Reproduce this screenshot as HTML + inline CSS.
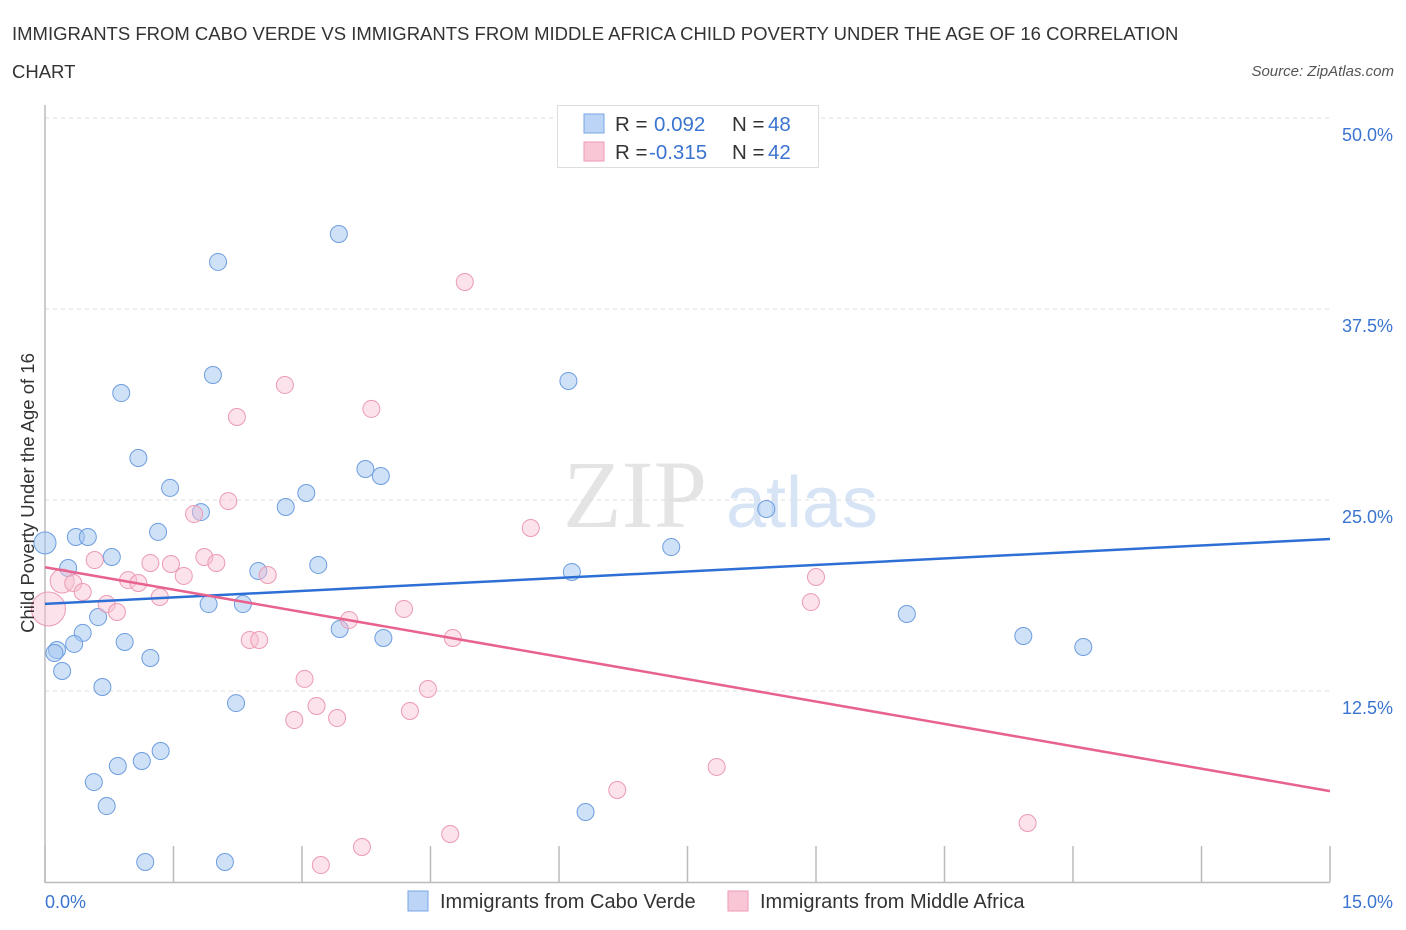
<!DOCTYPE html>
<html><head><meta charset="utf-8"><style>
body{margin:0;background:#fff;font-family:"Liberation Sans",sans-serif;}
svg{display:block}
</style></head><body>
<svg id="chart" width="1406" height="930">
<text x="12" y="40" font-size="18.5" fill="#333">IMMIGRANTS FROM CABO VERDE VS IMMIGRANTS FROM MIDDLE AFRICA CHILD POVERTY UNDER THE AGE OF 16 CORRELATION</text>
<text x="12" y="78" font-size="18.5" fill="#333">CHART</text>
<text x="1394" y="76" font-size="15" fill="#555" font-style="italic" text-anchor="end">Source: ZipAtlas.com</text>
<text x="635" y="527" font-size="96" fill="#e4e4e4" font-family="Liberation Serif,serif" text-anchor="middle">ZIP</text>
<text x="802" y="527" font-size="72" fill="#d6e4f6" text-anchor="middle">atlas</text>
<g id="grid"></g><g id="axes"></g><g id="pts"></g><g id="trend"></g>
<text transform="translate(34,493) rotate(-90)" font-size="18.5" fill="#333" text-anchor="middle">Child Poverty Under the Age of 16</text>
<text x="45" y="908" font-size="18" fill="#3b74d0">0.0%</text>
<text x="1393" y="908" font-size="18" fill="#3b74d0" text-anchor="end">15.0%</text>
<g>
<rect x="557.5" y="105.5" width="261" height="62" fill="#fff" stroke="#ddd"/>
<rect x="584" y="114" width="20" height="19" fill="#bcd4f5" stroke="#7aa6e6"/>
<rect x="584" y="142" width="20" height="19" fill="#f9c6d6" stroke="#ee9ab5"/>
<text x="615" y="131" font-size="20.5" fill="#333">R = </text><text x="654" y="131" font-size="20.5" fill="#3b74d0">0.092</text>
<text x="732" y="131" font-size="20.5" fill="#333">N = </text><text x="768" y="131" font-size="20.5" fill="#3b74d0">48</text>
<text x="615" y="159" font-size="20.5" fill="#333">R = </text><text x="649" y="159" font-size="20.5" fill="#3b74d0">-0.315</text>
<text x="732" y="159" font-size="20.5" fill="#333">N = </text><text x="768" y="159" font-size="20.5" fill="#3b74d0">42</text>
</g>
<g>
<rect x="408" y="891" width="20" height="20" fill="#bcd4f5" stroke="#7aa6e6"/>
<text x="440" y="908" font-size="20" fill="#333">Immigrants from Cabo Verde</text>
<rect x="728" y="891" width="20" height="20" fill="#f9c6d6" stroke="#ee9ab5"/>
<text x="760" y="908" font-size="20" fill="#333">Immigrants from Middle Africa</text>
</g>
</svg>
<script>
const yTicks=[12.5,25,37.5,50];
const yTickLabels=["12.5%","25.0%","37.5%","50.0%"];
const xTicks=[0,1.5,3,4.5,6,7.5,9,10.5,12,13.5,15];
const blueX=[0.00,0.27,0.36,0.50,0.78,1.32,1.46,1.09,0.89,1.96,2.02,3.43,1.82,2.81,3.05,3.74,3.92,2.49,3.19,1.91,2.31,0.62,0.44,0.34,0.14,0.11,0.20,0.93,1.23,0.67,2.23,3.44,3.95,6.11,8.42,6.15,7.31,10.06,11.42,12.12,1.35,1.13,0.85,0.57,0.72,1.17,2.10,6.31];
const blueY=[22.19,20.55,22.58,22.58,21.27,22.91,25.79,27.75,32.00,33.18,40.58,42.41,24.21,24.54,25.46,27.03,26.57,20.35,20.75,18.19,18.19,17.34,16.30,15.58,15.18,14.99,13.81,15.71,14.66,12.76,11.71,16.56,15.97,32.79,24.41,20.29,21.92,17.54,16.10,15.38,8.57,7.92,7.59,6.54,4.97,1.31,1.31,4.58];
const pinkX=[0.04,0.20,0.33,0.44,0.58,0.72,0.84,0.97,1.09,1.23,1.34,1.47,1.62,1.74,1.86,2.00,2.14,2.24,2.60,2.80,2.39,2.50,3.55,3.81,4.19,4.76,3.03,3.17,2.91,3.41,4.26,4.47,5.67,9.00,8.94,7.84,6.68,11.47,4.73,3.70,3.22,4.90];
const pinkY=[17.87,19.70,19.57,18.98,21.07,18.19,17.67,19.76,19.57,20.88,18.65,20.81,20.03,24.08,21.27,20.88,24.93,30.43,20.09,32.53,15.84,15.84,17.15,30.96,17.87,15.97,13.29,11.52,10.60,10.73,11.19,12.63,23.17,19.96,18.32,7.53,6.02,3.86,3.14,2.29,1.11,39.27];
const blueTrend=[18.2,22.45];
const pinkTrend=[20.6,5.95];
const NS="http://www.w3.org/2000/svg";
const xs=v=>45+v*(1285/15);
const ys=v=>882-v*(764/50);
function mk(tag,attrs,parent){const e=document.createElementNS(NS,tag);for(const k in attrs)e.setAttribute(k,attrs[k]);document.getElementById(parent).appendChild(e);return e;}
yTicks.forEach((t,i)=>{
 const l=mk('line',{x1:45,x2:1330,y1:ys(t),y2:ys(t),stroke:'#ddd','stroke-dasharray':'4,4'},'grid');
 
 
 const tx=mk('text',{x:1393,y:ys(t)+23,'font-size':18,fill:'#3b74d0','text-anchor':'end'},'grid');
 tx.textContent=yTickLabels[i];
 
 
});
const ax=mk('line',{x1:45,x2:45,y1:105,y2:883,stroke:'#bbb','stroke-width':1.5},'axes');


const bx=mk('line',{x1:45,x2:1330,y1:882.5,y2:882.5,stroke:'#bbb','stroke-width':1.5},'axes');


xTicks.forEach(t=>{
 const l=mk('line',{x1:xs(t),x2:xs(t),y1:846,y2:882,stroke:'#bbb','stroke-width':1.5},'axes');
 
 
});
function rad(i,series){if(series==='p'&&i===0)return 17;if(series==='p'&&i===1)return 12;if(series==='b'&&i===0)return 11;return 8.5;}
blueX.forEach((x,i)=>{
 const c=mk('circle',{cx:xs(x),cy:ys(blueY[i]),r:rad(i,'b'),fill:'rgba(160,196,240,0.5)',stroke:'#6d9de0','stroke-width':1},'pts');
 
 
});
pinkX.forEach((x,i)=>{
 const c=mk('circle',{cx:xs(x),cy:ys(pinkY[i]),r:rad(i,'p'),fill:'rgba(248,190,208,0.45)',stroke:'#ec9ab4','stroke-width':1},'pts');
 
 
});
const tb=mk('line',{x1:xs(0),y1:ys(blueTrend[0]),x2:xs(15),y2:ys(blueTrend[1]),stroke:'#2e6fd6','stroke-width':2.5},'trend');


const tp=mk('line',{x1:xs(0),y1:ys(pinkTrend[0]),x2:xs(15),y2:ys(pinkTrend[1]),stroke:'#e8628f','stroke-width':2.5},'trend');


</script>
</body></html>
